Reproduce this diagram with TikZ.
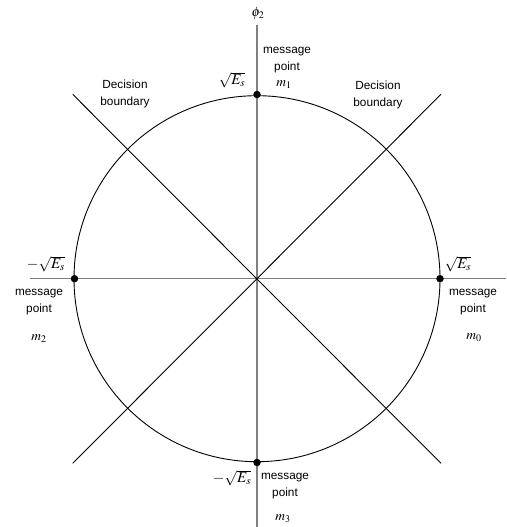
\documentclass[tikz,border=0pt]{standalone}
\usepackage{mathptmx}
\usepackage{fontspec}
\setmainfont{Liberation Sans}
\begin{document}
\begin{tikzpicture}[x=1pt,y=-1pt,
  lbl/.style={inner sep=0pt,align=center,font=\fontsize{11.8}{16.5}\selectfont},
  mlbl/.style={inner sep=0pt,font=\fontsize{13.5}{15}\selectfont},
  slbl/.style={inner sep=0pt,font=\fontsize{15}{17}\selectfont},
  axis/.style={draw=black!50,line width=1.4pt},
  bound/.style={draw=black,line width=0.9pt},
  pt/.style={circle,fill=black,inner sep=0pt,minimum size=7.5pt}]
\useasboundingbox (0,0) rectangle (506,527);
\coordinate (O) at (257,278.7);
\coordinate (vt) at (257,25);
\coordinate (vb) at (257,527);
\coordinate (hl) at (30,278.7);
\coordinate (hr) at (506,278.7);
\coordinate (tl) at (72.7,94.3);
\coordinate (br) at (441,463.3);
\coordinate (tr) at (441,94.3);
\coordinate (bl) at (72.7,463.3);
\draw[axis] (vt) -- (vb);
\draw[axis] (hl) -- (hr);
\draw[bound] (tl) -- (br);
\draw[bound] (bl) -- (tr);
\draw[line width=0.9pt] (O) circle (183);
\node[pt] (m1) at (257,94.5) {};
\node[pt] (m2) at (74.5,278.7) {};
\node[pt] (m0) at (440,278.7) {};
\node[pt] (m3) at (257,462.5) {};
\node[mlbl] (phi) at (258,13) {$\phi_2$};
% top
\node[lbl] (t1) at (287,60) {message\\point};
\node[mlbl] (tm) at (284,85) {$m_1$};
\node[slbl] (te) at (232,80) {$\sqrt{E_s}$};
% left
\node[lbl] (l1) at (39,302) {message\\point};
\node[mlbl] (lm) at (39,339) {$m_2$};
\node[slbl] (le) at (46,264) {$-\sqrt{E_s}$};
% right
\node[lbl] (r1) at (473,302) {message\\point};
\node[mlbl] (rm) at (474,338) {$m_0$};
\node[slbl] (re) at (458,264) {$\sqrt{E_s}$};
% bottom
\node[lbl] (b1) at (285,486) {message\\point};
\node[mlbl] (bm) at (283,519) {$m_3$};
\node[slbl] (be) at (232,478) {$-\sqrt{E_s}$};
% decision boundaries
\node[lbl] (d1) at (125,94) {Decision\\boundary};
\node[lbl] (d2) at (378,95) {Decision\\boundary};
\end{tikzpicture}
\end{document}
